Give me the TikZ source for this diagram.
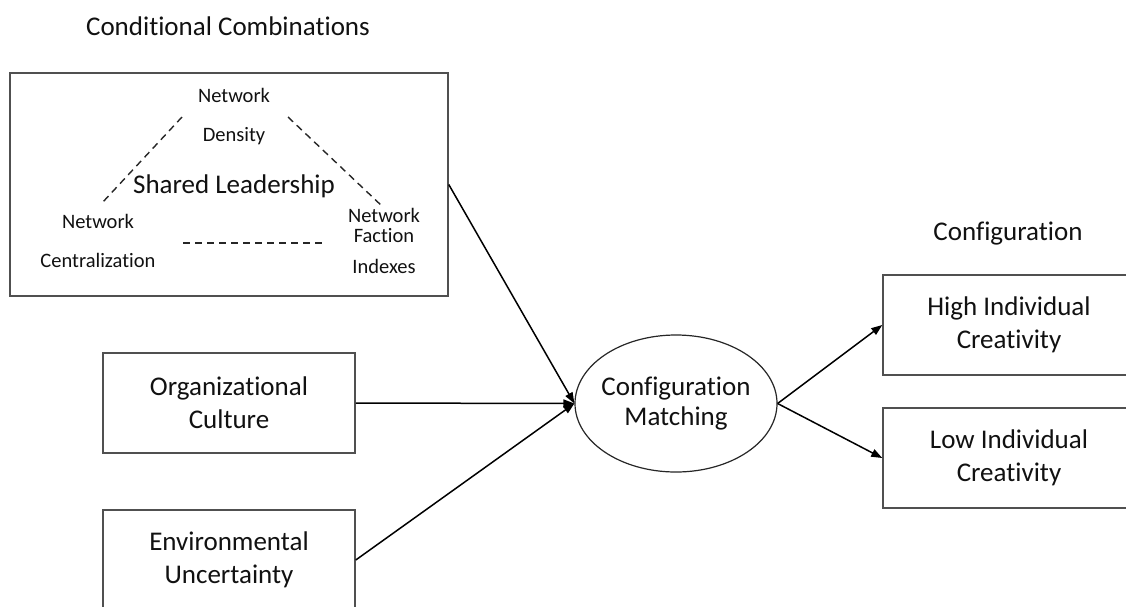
\documentclass[tikz,border=0pt]{standalone}
\usepackage{fontspec}
\setmainfont{Carlito}[Ligatures=NoCommon]
\usetikzlibrary{arrows.meta,shapes.geometric,calc}
\definecolor{ink}{HTML}{111111}
\definecolor{frame}{HTML}{505050}
\begin{document}
\begin{tikzpicture}[x=1pt,y=-1pt,
  box/.style={draw=frame,line width=1.5pt,minimum width=252pt,minimum height=100pt,
    inner sep=0pt,align=center,font=\fontsize{27}{33}\selectfont,text=ink},
  lbl/.style={anchor=base,font=\fontsize{27}{33}\selectfont,text=ink,inner sep=0pt},
  small/.style={anchor=base,font=\fontsize{20.5}{24}\selectfont,text=ink,inner sep=0pt},
  dashline/.style={dash pattern=on 7pt off 5pt,line width=1.4pt,draw=black!85},
  arr/.style={-{Triangle[length=11pt,width=8pt]},line width=1.5pt,draw=black}
]
\clip (0,0) rectangle (1126,606);
\fill[white] (0,0) rectangle (1126,606);

% titles
\node[lbl] (t1) at (228,35) {Conditional Combinations};
\node[lbl] (t2) at (1008,240) {Configuration};

% conditional combinations frame
\node[draw=frame,line width=1.5pt,minimum width=438pt,minimum height=223pt,inner sep=0pt] (cc) at (229,184.5) {};
\node[small] (nd1) at (234,102) {Network};
\node[small] (nd2) at (234,141) {Density};
\node[lbl] (sl) at (234,193) {Shared Leadership};
\node[small] (nc1) at (98,228) {Network};
\node[small] (nc2) at (98,267) {Centralization};
\node[small] (nf1) at (384,222) {Network};
\node[small] (nf2) at (384,242) {Faction};
\node[small] (nf3) at (384,273) {Indexes};

\coordinate (dla) at (182,117);
\coordinate (dlb) at (102,203);
\coordinate (dra) at (288,117);
\coordinate (drb) at (383,207);
\coordinate (dba) at (183,243);
\coordinate (dbb) at (323,243);
\draw[dashline] (dla) -- (dlb);
\draw[dashline] (dra) -- (drb);
\draw[dashline] (dba) -- (dbb);

% other factors
\node[box] (oc) at (229,403) {Organizational\\Culture};
\node[box] (eu) at (229,560) {Environmental\\Uncertainty};

% matching
\node[ellipse,draw=black!85,line width=1.2pt,minimum width=202pt,minimum height=137pt,
  inner xsep=-6pt,inner ysep=0pt,align=center,font=\fontsize{27}{30}\selectfont,text=ink] (cm) at (676,403.5) {Configuration\\Matching};

% outcomes
\node[box] (hi) at (1009,325) {High Individual\\Creativity};
\node[box] (lo) at (1009,458) {Low Individual\\Creativity};

% arrows
\draw[arr] (cc.east) -- (cm.west);
\draw[arr] (oc.east) -- (cm.west);
\draw[arr] (eu.east) -- (cm.west);
\draw[arr] (cm.east) -- (hi.west);
\draw[arr] (cm.east) -- (lo.west);
\end{tikzpicture}
\end{document}
